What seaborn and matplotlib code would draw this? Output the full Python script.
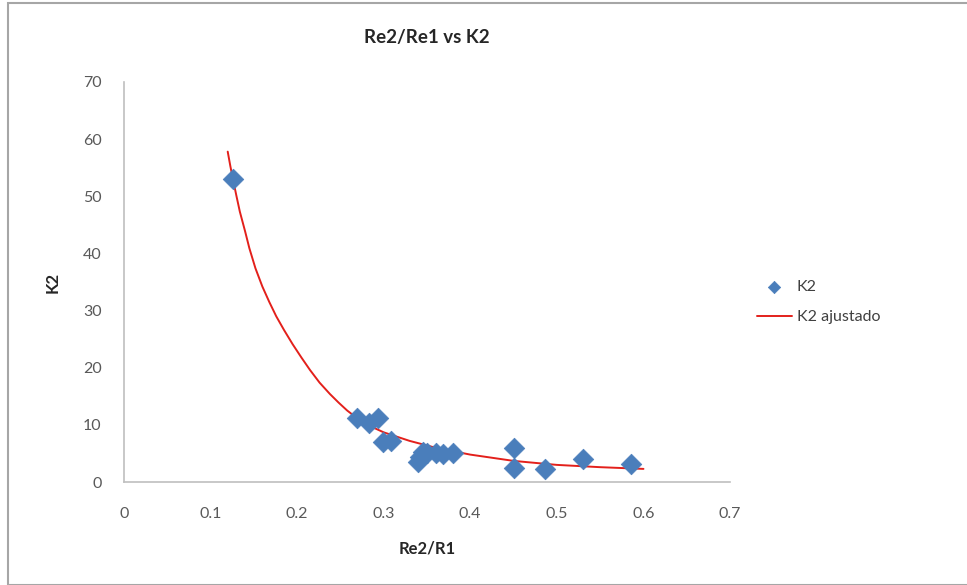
import numpy as np
import pandas as pd
import seaborn as sns
import matplotlib.pyplot as plt
from matplotlib.patches import Rectangle

ratio = [0.126, 0.269, 0.283, 0.294, 0.299, 0.309, 0.340, 0.342, 0.345,
         0.350, 0.360, 0.368, 0.380, 0.451, 0.451, 0.486, 0.530, 0.586]
k2 = [53.0, 11.2, 10.3, 11.2, 7.0, 7.1, 3.5, 4.3, 5.2,
      5.0, 5.1, 4.9, 5.0, 5.9, 2.5, 2.3, 4.0, 3.1]

# fitted curve, points
fit_ratio = [0.120, 0.123, 0.126, 0.130, 0.134, 0.140, 0.145, 0.152, 0.160,
             0.168, 0.176, 0.185, 0.195, 0.205, 0.215, 0.226, 0.238, 0.248,
             0.258, 0.270, 0.280, 0.300, 0.330, 0.360, 0.400, 0.450,
             0.500, 0.550, 0.600]
fit_k2 = [57.8, 55.3, 53.0, 50.1, 47.3, 43.9, 40.9, 37.4, 34.2,
          31.5, 29.0, 26.6, 24.1, 21.8, 19.6, 17.4, 15.4, 13.9,
          12.5, 11.1, 10.1, 8.7, 7.2, 6.0, 4.8, 3.7, 3.0, 2.6, 2.3]

x_ticks = [0, 0.1, 0.2, 0.3, 0.4, 0.5, 0.6, 0.7]
y_ticks = [0, 10, 20, 30, 40, 50, 60, 70]

df = pd.DataFrame({"Re2/R1": ratio, "K2": k2})
fit = pd.DataFrame({"Re2/R1": fit_ratio, "K2 ajustado": fit_k2})

sns.set_style("white")
plt.rcParams["font.family"] = ["Lato", "DejaVu Sans"]

fig = plt.figure(figsize=(9.67, 5.85), dpi=100)
ax = fig.add_axes([0.128, 0.176, 0.627, 0.684])

sns.lineplot(data=fit, x="Re2/R1", y="K2 ajustado", ax=ax, color="#E3201B",
             linewidth=1.4, label="K2 ajustado", zorder=2)
sns.scatterplot(data=df, x="Re2/R1", y="K2", ax=ax, marker="D", s=110,
                color="#4A7EBB", edgecolor="#4A7EBB", linewidth=0.5,
                label="K2", zorder=3)

ax.set_xlim(0, 0.7)
ax.set_ylim(0, 70)
ax.set_xticks(x_ticks)
ax.set_xticklabels([f"{t:g}" for t in x_ticks])
ax.set_yticks(y_ticks)
ax.tick_params(axis="both", length=0, labelsize=11.5, labelcolor="#595959")
ax.tick_params(axis="x", pad=18)
ax.tick_params(axis="y", pad=16)

for s in ["top", "right"]:
    ax.spines[s].set_visible(False)
for s in ["left", "bottom"]:
    ax.spines[s].set_color("#BFBFBF")
    ax.spines[s].set_linewidth(1.2)

ax.set_title("Re2/Re1 vs K2", fontsize=13.5, fontweight="bold", pad=28)
ax.set_xlabel("Re2/R1", fontsize=12, fontweight="bold", labelpad=14)
ax.set_ylabel("K2", fontsize=12, fontweight="bold", labelpad=16)

handles, labels = ax.get_legend_handles_labels()
order = [labels.index("K2"), labels.index("K2 ajustado")]
ax.legend([handles[i] for i in order], [labels[i] for i in order],
          loc="center left", bbox_to_anchor=(1.02, 0.45), frameon=False,
          fontsize=11.5, labelcolor="#404040", handlelength=2.2,
          handletextpad=0.3, labelspacing=1.0, markerscale=0.6)

fig.patches.append(Rectangle((8 / 967, 0.0), 1.0, 1 - 3 / 585,
                             transform=fig.transFigure, fill=False,
                             edgecolor="#A6A6A6", linewidth=1.5))

fig.savefig("out.png", dpi=100)
